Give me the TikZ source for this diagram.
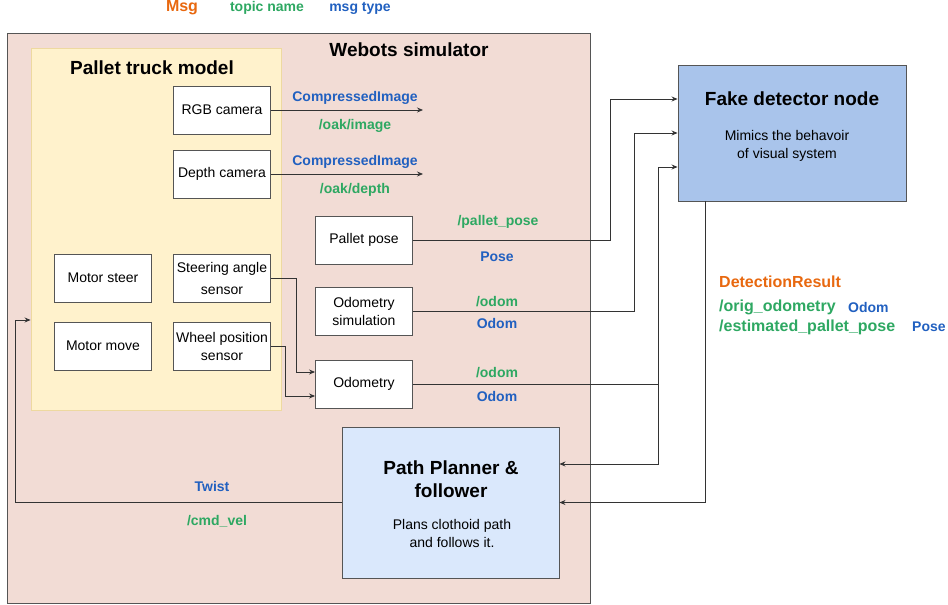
\documentclass[tikz,border=0pt]{standalone}
\usepackage{fontspec}
\setmainfont{Liberation Sans}
\usetikzlibrary{arrows.meta,calc}
\definecolor{pinkbg}{HTML}{F2DCD5}
\definecolor{yelbg}{HTML}{FFF2CC}
\definecolor{yelbd}{HTML}{EED9A0}
\definecolor{fakebg}{HTML}{A9C4EB}
\definecolor{planbg}{HTML}{DAE8FC}
\definecolor{msgc}{HTML}{E8680F}
\definecolor{topc}{HTML}{2EA862}
\definecolor{typc}{HTML}{2160C0}
\definecolor{linec}{HTML}{333333}
\definecolor{bordc}{HTML}{555555}
\tikzset{
  box/.style={draw=bordc, fill=white, line width=0.9pt, minimum width=97, minimum height=48, align=center, inner sep=1, font=\fontsize{14}{18}\selectfont},
  big/.style={draw=bordc, line width=0.9pt, inner sep=0},
  ttl/.style={font=\fontsize{19}{23}\selectfont\bfseries, align=center},
  sub/.style={font=\fontsize{14}{18}\selectfont, align=center},
  lbl/.style={font=\fontsize{14}{16}\selectfont\bfseries, inner sep=0},
  msg/.style={lbl, text=msgc, font=\fontsize{16}{18}\selectfont\bfseries},
  top/.style={lbl, text=topc},
  typ/.style={lbl, text=typc},
  topbig/.style={lbl, text=topc, font=\fontsize{16}{18}\selectfont\bfseries},
  con/.style={draw=linec, line width=0.8pt, -{Stealth[length=6pt,width=5pt]}},
}
\begin{document}
\begin{tikzpicture}[x=1pt,y=-1pt]
\useasboundingbox (0,0) rectangle (948,605);
% legend
\node[msg] (lmsg) at (182,8) {Msg};
\node[top] (ltop) at (267,8) {topic name};
\node[typ] (ltyp) at (360,8) {msg type};
% containers
\node[big, fill=pinkbg, minimum width=583, minimum height=570] (web) at (298.5,318) {};
\node[ttl] (webt) at (409,50) {Webots simulator};
\node[big, draw=yelbd, fill=yelbg, minimum width=250, minimum height=362] (truck) at (156,229) {};
\node[ttl] (truckt) at (152,68) {Pallet truck model};
% truck components
\node[box] (rgb) at (222,110) {RGB camera};
\node[box] (depth) at (222,174) {Depth camera};
\node[box] (msteer) at (103,278) {Motor steer};
\node[box] (ssteer) at (222,278) {Steering angle\\[4pt]sensor};
\node[box] (mmove) at (103,346) {Motor move};
\node[box] (swheel) at (222,346) {Wheel position\\sensor};
% simulator components
\node[box] (ppose) at (364,240) {Pallet pose};
\node[box] (odosim) at (364,311) {Odometry\\simulation};
\node[box] (odo) at (364,384) {Odometry};
% detector
\node[big, fill=fakebg, minimum width=228, minimum height=136] (fake) at (792,133) {};
\node[ttl] (faket) at (792,99) {Fake detector node};
\node[sub] (fakes) at (787,146) {Mimics the behavoir\\of visual system};
% planner
\node[big, fill=planbg, minimum width=217, minimum height=151] (plan) at (450.5,502.5) {};
\node[ttl] (plant) at (451,479) {Path Planner \&\\follower};
\node[sub] (plans) at (452,533) {Plans clothoid path\\and follows it.};
% camera outputs
\coordinate (rgbend) at (423,110);
\coordinate (depend) at (423,174);
\draw[con] (rgb.east) -- (rgbend);
\draw[con] (depth.east) -- (depend);
\node[typ] (l1) at (355,98) {CompressedImage};
\node[top] (l2) at (355,126) {/oak/image};
\node[typ] (l3) at (355,162) {CompressedImage};
\node[top] (l4) at (355,190) {/oak/depth};
% sensors to odometry
\draw[con] (ssteer.east) -- (296,278) |- ($(odo.west)+(0,-12)$);
\draw[con] (swheel.east) -- (285,346) |- ($(odo.west)+(0,12)$);
% to detector
\draw[con] (ppose.east) -- (610,240) |- ($(fake.west)+(0,-34)$);
\draw[con] (odosim.east) -- (634,311) |- (fake.west);
\draw[con] (odo.east) -- (658,384) |- ($(fake.west)+(0,34)$);
\draw[con] (658,384) |- ($(plan.east)+(0,-38.5)$);
\draw[con] ($(fake.south west)+(28,0)$) |- (plan.east);
% to truck
\draw[con] (plan.west) -- (15,502.5) |- ($(truck.west)+(0,91)$);
% labels
\node[top] (l5) at (498,222) {/pallet\_pose};
\node[typ] (l6) at (497,257) {Pose};
\node[top] (l7) at (497,302) {/odom};
\node[typ] (l8) at (497,323) {Odom};
\node[top] (l9) at (497,373) {/odom};
\node[typ] (l10) at (497,396) {Odom};
\node[typ] (l11) at (212,486) {Twist};
\node[top] (l12) at (217,521) {/cmd\_vel};
\node[msg, anchor=west] (dr) at (719,282) {DetectionResult};
\node[topbig, anchor=west] (oo) at (719,307) {/orig\_odometry};
\node[typ, anchor=west] (oot) at (848,307) {Odom};
\node[topbig, anchor=west] (ep) at (719,327) {/estimated\_pallet\_pose};
\node[typ, anchor=west] (ept) at (912,327) {Pose};
\end{tikzpicture}
\end{document}
